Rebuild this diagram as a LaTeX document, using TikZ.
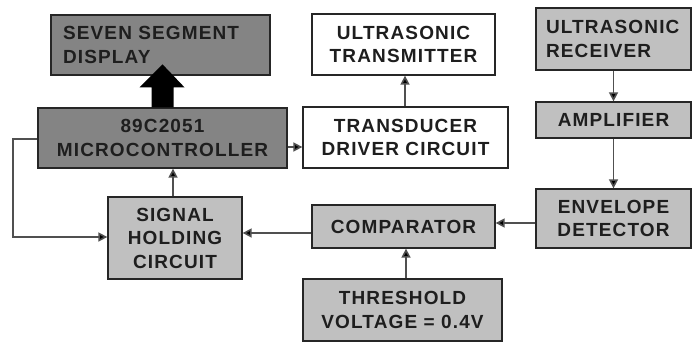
\documentclass[tikz,border=0pt]{standalone}
\usepackage{fontspec}
\setmainfont{Liberation Sans}[LetterSpace=6]
\usetikzlibrary{arrows.meta,calc}
\definecolor{darkbox}{RGB}{132,132,132}
\definecolor{lightbox}{RGB}{192,192,192}
\definecolor{linegray}{RGB}{80,80,80}
\definecolor{txt}{RGB}{30,30,30}
\tikzset{
  blk/.style={draw=black!85, line width=1.3pt, inner sep=0pt, text=txt,
    font=\fontsize{19}{23.5}\selectfont\bfseries, align=center},
  arr/.style={draw=linegray, line width=1.6pt, -{Triangle[length=9pt,width=9pt,fill=black]}},
}
\begin{document}
\begin{tikzpicture}[x=1pt,y=-1pt]
\useasboundingbox (0,0) rectangle (692,342);
% boxes
\node[blk, fill=darkbox, minimum width=219, minimum height=60, text width=195, inner xsep=12, align=left] (seg) at (160.5,45) {SEVEN SEGMENT\\DISPLAY};
\node[blk, fill=darkbox, minimum width=249, minimum height=60] (micro) at (162.5,138) {89C2051\\MICROCONTROLLER};
\node[blk, fill=white, minimum width=183, minimum height=61] (trans) at (403.5,44.5) {ULTRASONIC\\TRANSMITTER};
\node[blk, fill=white, minimum width=205, minimum height=61] (driver) at (405.5,137.5) {TRANSDUCER\\DRIVER CIRCUIT};
\node[blk, fill=lightbox, minimum width=155, minimum height=62, text width=135, inner xsep=10, align=left] (recv) at (613.5,39) {ULTRASONIC\\RECEIVER};
\node[blk, fill=lightbox, minimum width=155, minimum height=36] (amp) at (613.5,120) {AMPLIFIER};
\node[blk, fill=lightbox, minimum width=155, minimum height=59] (env) at (613.5,218.5) {ENVELOPE\\DETECTOR};
\node[blk, fill=lightbox, minimum width=183, minimum height=43] (comp) at (403.5,226.5) {COMPARATOR};
\node[blk, fill=lightbox, minimum width=199, minimum height=62] (thr) at (402.5,310) {THRESHOLD\\VOLTAGE = 0.4V};
\node[blk, fill=lightbox, minimum width=134, minimum height=82] (sig) at (175,238) {SIGNAL\\HOLDING\\CIRCUIT};
% connectors
\draw[arr] (micro.east |- 0,147) -- (driver.west |- 0,147);
\draw[arr] (driver.north -| 405,0) -- (trans.south -| 405,0);
\draw[arr] (recv.south) -- (amp.north);
\draw[arr] (amp.south) -- (env.north);
\draw[arr] (env.west |- 0,223) -- (comp.east |- 0,223);
\draw[arr] (thr.north -| 406,0) -- (comp.south -| 406,0);
\draw[arr] (comp.west |- 0,233) -- (sig.east |- 0,233);
\draw[arr] (sig.north -| 173,0) -- (micro.south -| 173,0);
\coordinate (loop) at (13,139);
\draw[arr] (micro.west |- loop) -- (loop) -- (loop |- 0,237) -- (sig.west |- 0,237);
% thick arrow to display
\fill[black] ($(micro.north)+(-11,0)$) -- ++(0,-20) -- ++(-12,0) -- ($(micro.north)+(0,-43)$)
  -- ($(micro.north)+(22,-20)$) -- ++(-11,0) -- ($(micro.north)+(11,0)$) -- cycle;
\end{tikzpicture}
\end{document}
